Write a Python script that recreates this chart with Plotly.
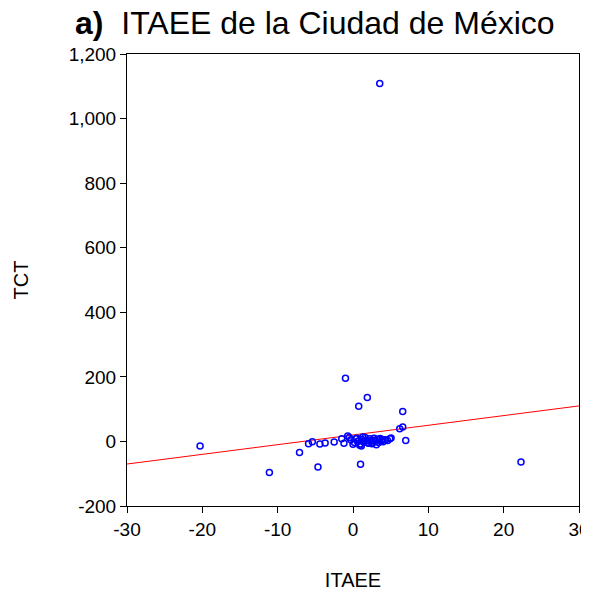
import plotly.graph_objects as go

itaee = [-1.0, 1.9, 0.76, 6.6, 6.6, 6.2, 7.0, 5.05, -7.1, -11.1, -4.65, 1.0,
         -5.9, -5.4, -4.4, -3.7, -2.5, -1.5, -0.7, -1.2, -20.3, 3.55, 22.3,
         -0.3, 0.2, 0.5, 0.8, 1.0, 1.2, 1.4, 1.6, 1.8, 2.0, 2.2, 2.4, 2.6,
         2.8, 3.0, 3.2, 3.4, 3.6, 3.8, 4.0, 4.3, 4.6, 0.0, 0.9, 1.3, 2.1,
         2.7, 3.1, 3.5, 0.4, 1.1, 1.7, 2.5, 3.9, -0.5, 0.6, 4.9]
tct = [196, 136, 109, 93, 45, 39, 3, 11, -34, -96, -79, -71,
       -7, -1, -8, -5, -2, 8, 17, -6, -14, 1109, -64,
       5, -3, 10, 2, -8, 6, -2, 12, 1, -5, 8, 3, -4,
       10, 0, 6, -3, 9, 2, -1, 5, 3, -9, -12, 14, -6,
       4, -10, 7, 8, -14, 3, -7, 6, 12, 0, 8]

fit_intercept = 20.0
fit_slope = 3.0

x_ticks = [-30, -20, -10, 0, 10, 20, 30]
x_labels = ["-30", "-20", "-10", "0", "10", "20", "30"]
y_ticks = [-200, 0, 200, 400, 600, 800, 1000, 1200]
y_labels = ["-200", "0", "200", "400", "600", "800", "1,000", "1,200"]

x_range = [-30, 30]
y_range = [-200, 1200]

fig = go.Figure()
fig.add_trace(go.Scatter(
    x=x_range,
    y=[fit_intercept + fit_slope * v for v in x_range],
    mode="lines", line=dict(color="red", width=1), hoverinfo="skip"))
fig.add_trace(go.Scatter(
    x=itaee, y=tct, mode="markers",
    marker=dict(symbol="circle-open", color="blue", size=6,
                line=dict(width=1.5, color="blue"))))

axis_common = dict(showgrid=False, zeroline=False, showline=True, linecolor="black",
                   linewidth=1, mirror=True, ticks="outside", ticklen=6,
                   tickcolor="black", tickfont=dict(size=19, color="black"),
                   automargin=False, ticklabeloverflow="allow")

fig.update_layout(
    width=581, height=586,
    margin=dict(l=119, r=10, t=46, b=88),
    plot_bgcolor="white", paper_bgcolor="white",
    font=dict(family="Liberation Sans, Arial, sans-serif", color="black"),
    showlegend=False,
    title=dict(text="<b>a)</b>  ITAEE de la Ciudad de México",
               x=67/581, xanchor="left", xref="container",
               y=1-15/586, yanchor="middle", yref="container",
               font=dict(size=32, color="black")),
    xaxis=dict(range=x_range, tickvals=x_ticks, ticktext=x_labels,
               title=dict(text="ITAEE", font=dict(size=20), standoff=34),
               **axis_common),
    yaxis=dict(range=y_range, tickvals=y_ticks, ticktext=y_labels,
               title=dict(text="TCT", font=dict(size=20), standoff=34),
               **axis_common),
)

fig.write_html("out.html")
